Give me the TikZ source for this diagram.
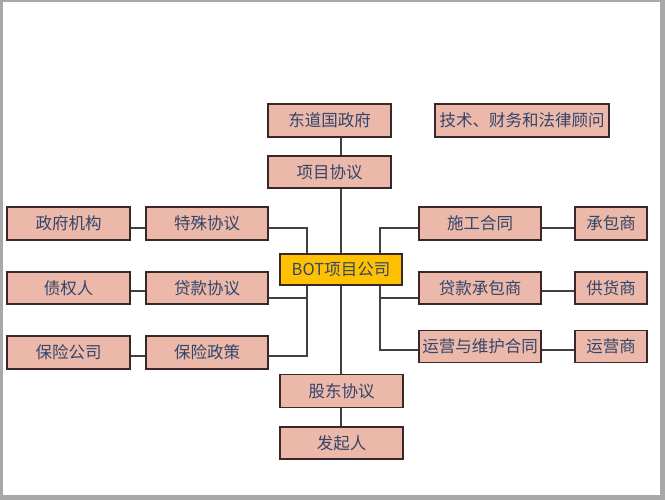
\documentclass[tikz,border=0pt]{standalone}
\usepackage{fontspec}
\setmainfont{Noto Sans CJK SC}
\usetikzlibrary{calc}
\pgfdeclarelayer{framelayer}
\pgfdeclarelayer{linelayer}
\pgfsetlayers{framelayer,linelayer,main}
\definecolor{boxfill}{HTML}{EBB8A9}
\definecolor{boxline}{HTML}{3A2828}
\definecolor{boxtext}{HTML}{34456A}
\definecolor{botfill}{HTML}{FFC000}
\definecolor{conn}{HTML}{404040}
\definecolor{framegray}{HTML}{A8A8A8}
\tikzset{
  box/.style={draw=boxline, line width=1.2pt, fill=boxfill, text=boxtext,
    inner sep=0pt, align=center, font=\fontsize{16.5}{20}\selectfont},
  wbox/.style={box, minimum width=123pt, minimum height=33pt},
  sbox/.style={box, minimum width=72pt, minimum height=33pt},
  botbox/.style={box, fill=botfill, minimum width=122pt, minimum height=31pt},
  connector/.style={draw=conn, line width=1.2pt}
}
\begin{document}
\begin{tikzpicture}[x=1pt, y=-1pt]
\useasboundingbox (0,0) rectangle (665,500);
\begin{pgfonlayer}{framelayer}
  \fill[framegray] (0,0) rectangle (665,500);
  \fill[white] (3,2) rectangle (660,495);
\end{pgfonlayer}
% nodes
\node[wbox] (gov) at (329.5,120.5) {东道国政府};
\node[box, minimum width=174pt, minimum height=33pt] (adv) at (522,120.5) {技术、财务和法律顾问};
\node[wbox, minimum height=32pt] (xmxy) at (329.5,172) {项目协议};
\node[wbox] (zfjg) at (68.5,223.5) {政府机构};
\node[wbox, minimum width=122pt] (tsxy) at (207,223.5) {特殊协议};
\node[botbox] (bot) at (341,269.5) {BOT项目公司};
\node[wbox, minimum width=122pt] (sg) at (480,223.5) {施工合同};
\node[sbox] (cbs) at (611,223.5) {承包商};
\node[wbox, minimum height=32pt] (zqr) at (68.5,288) {债权人};
\node[wbox, minimum width=122pt, minimum height=32pt] (dkxy) at (207,288) {贷款协议};
\node[wbox, minimum width=122pt, minimum height=32pt] (dkcbs) at (480,288) {贷款承包商};
\node[sbox, minimum height=32pt] (ghs) at (611,288) {供货商};
\node[wbox] (bxgs) at (68.5,352.5) {保险公司};
\node[wbox, minimum width=122pt] (bxzc) at (207,352.5) {保险政策};
\node[wbox, minimum width=122pt, minimum height=32pt] (yy) at (480,346.5) {运营与维护合同};
\node[sbox, minimum height=32pt] (yys) at (611,346.5) {运营商};
\node[wbox] (gd) at (341.5,391) {股东协议};
\node[wbox, minimum height=32pt] (fq) at (341.5,443) {发起人};
% junction coordinates
\coordinate (lt) at (307,228);
\coordinate (lm) at (307,298);
\coordinate (lb) at (307,356);
\coordinate (rt) at (380,228);
\coordinate (rm) at (380,298);
\coordinate (rb) at (380,350);
\begin{pgfonlayer}{linelayer}
  % main spine
  \draw[connector] (bot.center |- gov.south) -- (bot.center |- fq.north);
  % left branch
  \draw[connector] (tsxy.east |- lt) -- (lt) -- (lb) -- (bxzc.east |- lb);
  \draw[connector] (dkxy.east |- lm) -- (lm);
  % right branch
  \draw[connector] (sg.west |- rt) -- (rt) -- (rb) -- (yy.west |- rb);
  \draw[connector] (rm) -- (dkcbs.west |- rm);
  % pairs
  \draw[connector] (zfjg.east |- lt) -- (tsxy.west |- lt);
  \draw[connector] (zqr.east |- 0,291) -- (dkxy.west |- 0,291);
  \draw[connector] (bxgs.east |- lb) -- (bxzc.west |- lb);
  \draw[connector] (sg.east |- rt) -- (cbs.west |- rt);
  \draw[connector] (dkcbs.east |- 0,291) -- (ghs.west |- 0,291);
  \draw[connector] (yy.east |- rb) -- (yys.west |- rb);
\end{pgfonlayer}
\end{tikzpicture}
\end{document}
